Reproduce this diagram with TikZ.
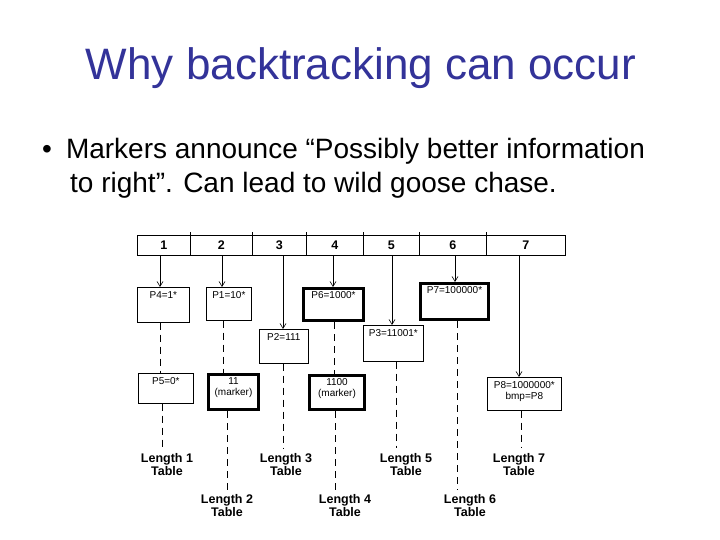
\documentclass[tikz,border=0pt]{standalone}
\usepackage{fontspec}
\setmainfont{Liberation Sans}
\usetikzlibrary{arrows.meta}
\definecolor{titleblue}{RGB}{51,51,153}
\begin{document}
\begin{tikzpicture}[x=1pt,y=-1pt,
  cell/.style={draw,line width=0.8pt,minimum height=20pt,inner sep=0pt,font=\fontsize{12.5}{12}\selectfont\bfseries},
  pbox/.style={draw,line width=0.7pt,inner sep=0pt},
  tbox/.style={draw,line width=3pt,inner sep=0pt},
  btxt/.style={font=\fontsize{10}{11}\selectfont,align=center,inner sep=4pt},
  ltab/.style={font=\fontsize{12.5}{13}\selectfont\bfseries,align=center,inner sep=0pt,anchor=north},
  arr/.style={line width=0.6pt,-{Straight Barb[length=5pt,width=6pt]}},
  dsh/.style={line width=0.8pt,dash pattern=on 7pt off 5pt}]
\useasboundingbox (0,0) rectangle (720,540);
\node[titleblue,font=\fontsize{44}{44}\selectfont] (title) at (361,68) {Why backtracking can occur};
\node[anchor=north west,align=left,font=\fontsize{28}{34}\selectfont,inner sep=0pt] (bul) at (42,138)
 {•\hspace{14pt}Markers announce “Possibly better information\\\hspace{28pt}to right”. Can lead to wild goose chase.};
% bar cells
\foreach \n/\a/\b/\l in {c1/137/190/1,c2/190/252/2,c3/252/306/3,c4/306/363/4,c5/363/419/5,c6/419/486/6,c7/486/565/7}
  \node[cell,minimum width=\b pt-\a pt,anchor=north west] (\n) at (\a,235) {\l};
\foreach \x in {190,252,306,363,419,486} \draw[line width=0.8pt] (\x,232) -- (\x,235);
% boxes
\newcommand{\mybox}[7]{\node[#1,minimum width=#4pt-#2pt,minimum height=#5pt-#3pt,anchor=north west] (#6) at (#2,#3) {};
  \node[btxt,anchor=north] (#6t) at (#6.north) {#7};}
\mybox{pbox}{137}{287}{189}{322}{p4}{P4=1*}
\mybox{pbox}{206}{287}{251}{320}{p1}{P1=10*}
\mybox{pbox}{259}{329}{308}{363}{p2}{P2=111}
\mybox{tbox}{302}{287}{362}{319}{p6}{P6=1000*}
\mybox{pbox}{363}{325}{423}{361}{p3}{P3=11001*}
\mybox{tbox}{419}{282}{487}{318}{p7}{P7=100000*}
\mybox{pbox}{138}{373}{193}{403}{p5}{P5=0*}
\mybox{tbox}{207}{373}{257}{408}{m11}{11\\(marker)}
\mybox{tbox}{308}{374}{363}{408}{m1100}{1100\\(marker)}
\mybox{pbox}{487}{377}{561}{410}{p8}{P8=1000000*\\bmp=P8}
% tables
\node[ltab] (l1) at (167,453) {Length 1\\Table};
\node[ltab] (l2) at (227,494) {Length 2\\Table};
\node[ltab] (l3) at (286,453) {Length 3\\Table};
\node[ltab] (l4) at (345,494) {Length 4\\Table};
\node[ltab] (l5) at (406,453) {Length 5\\Table};
\node[ltab] (l6) at (470,494) {Length 6\\Table};
\node[ltab] (l7) at (519,453) {Length 7\\Table};
% arrows
\draw[arr] (c1.south -| 160,0) -- (p4.north -| 160,0);
\draw[arr] (c2.south -| 222,0) -- (p1.north -| 222,0);
\draw[arr] (c3.south -| 283,0) -- (p2.north -| 283,0);
\draw[arr] (c4.south -| 333,0) -- (p6.north -| 333,0);
\draw[arr] (c5.south -| 392,0) -- (p3.north -| 392,0);
\draw[arr] (c6.south -| 455,0) -- (p7.north -| 455,0);
\draw[arr] (c7.south -| 519,0) -- (p8.north -| 519,0);
% dashed
\draw[dsh] (p4.south -| 160,0) -- (p5.north -| 160,0);
\draw[dsh] (p5.south -| 162,0) -- ([yshift=5pt]l1.north -| 162,0);
\draw[dsh] (p1.south -| 223,0) -- (m11.north -| 223,0);
\draw[dsh] (m11.south -| 227,0) -- ([yshift=4pt]l2.north -| 227,0);
\draw[dsh] (p2.south -| 283,0) -- ([yshift=5pt]l3.north -| 283,0);
\draw[dsh] (p6.south -| 334,0) -- (m1100.north -| 334,0);
\draw[dsh] (m1100.south -| 335,0) -- ([yshift=4pt]l4.north -| 335,0);
\draw[dsh] (p3.south -| 396,0) -- ([yshift=5pt]l5.north -| 396,0);
\draw[dsh] (p7.south -| 457,0) -- ([yshift=4pt]l6.north -| 457,0);
\draw[dsh] (p8.south -| 521,0) -- ([yshift=5pt]l7.north -| 521,0);
\end{tikzpicture}
\end{document}
